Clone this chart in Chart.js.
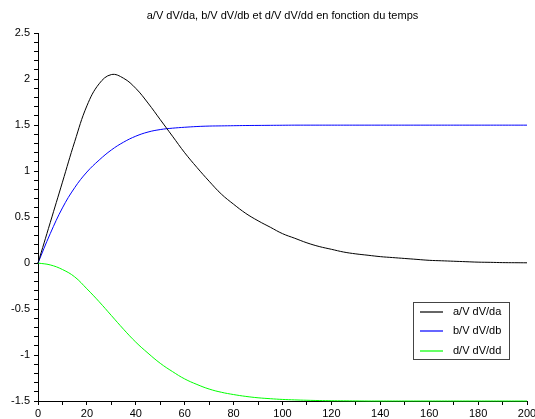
<!DOCTYPE html>
<html>
<head>
<meta charset="utf-8">
<script src="https://cdn.jsdelivr.net/npm/chart.js@4/dist/chart.umd.min.js"></script>
<style>
  html, body { margin: 0; padding: 0; background: #fff; }
  #wrap { width: 535px; height: 419px; }
</style>
</head>
<body>
<div id="wrap"><canvas id="myChart" width="535" height="419"></canvas></div>
<script>
// temps (pas de 5)
const temps = [0, 5, 10, 15, 20, 25, 30, 35, 40, 45, 50, 55, 60, 65, 70, 75, 80, 85, 90, 95, 100,
    105, 110, 115, 120, 125, 130, 135, 140, 145, 150, 155, 160, 165, 170, 175, 180, 185, 190, 195, 200];
// a/V dV/da
const sensA = [0, 0.44, 0.88, 1.32, 1.71, 1.95, 2.05, 2.01, 1.90, 1.74, 1.56, 1.38, 1.20, 1.04, 0.89, 0.75, 0.64, 0.54, 0.46, 0.39, 0.32,
    0.27, 0.22, 0.18, 0.15, 0.12, 0.10, 0.085, 0.07, 0.06, 0.05, 0.04, 0.03, 0.025, 0.02, 0.015, 0.01, 0.008, 0.005, 0.004, 0.003];
// b/V dV/db
const sensB = [0, 0.32, 0.60, 0.82, 0.99, 1.12, 1.23, 1.315, 1.38, 1.425, 1.452, 1.467, 1.477, 1.485, 1.49, 1.492, 1.494, 1.496, 1.497, 1.498, 1.499,
    1.5, 1.5, 1.5, 1.5, 1.5, 1.5, 1.5, 1.5, 1.5, 1.5, 1.5, 1.5, 1.5, 1.5, 1.5, 1.5, 1.5, 1.5, 1.5, 1.5];
// d/V dV/dd
const sensD = [0, -0.02, -0.07, -0.15, -0.28, -0.42, -0.57, -0.72, -0.86, -0.98, -1.09, -1.18, -1.26, -1.32, -1.37, -1.405, -1.43, -1.45, -1.465, -1.475, -1.483,
    -1.488, -1.492, -1.495, -1.497, -1.498, -1.499, -1.5, -1.5, -1.5, -1.5, -1.5, -1.5, -1.5, -1.5, -1.5, -1.5, -1.5, -1.5, -1.5, -1.5];

const seriesNames = ['a/V dV/da', 'b/V dV/db', 'd/V dV/dd'];
const seriesColors = ['#000000', '#0000ff', '#00ff00'];
const titre = 'a/V dV/da, b/V dV/db et d/V dV/dd en fonction du temps';

function pts(vals) {
    return vals.map((v, i) => ({ x: temps[i], y: v }));
}

const isMult = (v, step) => Math.abs(v / step - Math.round(v / step)) < 1e-6;

// legend box drawn in lower right of the plot (like scilab)
const boxLegend = {
    id: 'boxLegend',
    afterDraw(chart) {
        const c = chart.ctx;
        const x0 = 413, y0 = 302, w = 96, h = 57;
        c.save();
        c.fillStyle = '#fff';
        c.fillRect(x0, y0, w, h);
        c.strokeStyle = '#444';
        c.lineWidth = 1;
        c.strokeRect(x0 + 0.5, y0 + 0.5, w, h);
        c.font = '11px "Liberation Sans", Arial, sans-serif';
        c.textBaseline = 'middle';
        seriesNames.forEach((name, i) => {
            const y = Math.round(y0 + 9.5 + i * 19.5);
            c.beginPath();
            c.strokeStyle = seriesColors[i];
            c.lineWidth = 1.2;
            c.moveTo(420, y);
            c.lineTo(443, y);
            c.stroke();
            c.fillStyle = '#000';
            c.fillText(name, 453, y);
        });
        c.restore();
    }
};

const ctx = document.getElementById('myChart');
const myChart = new Chart(ctx, {
    type: 'line',
    data: {
        datasets: [
            { label: seriesNames[0], data: pts(sensA), borderColor: seriesColors[0] },
            { label: seriesNames[1], data: pts(sensB), borderColor: seriesColors[1] },
            { label: seriesNames[2], data: pts(sensD), borderColor: seriesColors[2] }
        ].map(d => Object.assign(d, { borderWidth: 1, pointRadius: 0, tension: 0.4, fill: false, clip: false }))
    },
    options: {
        responsive: false,
        animation: false,
        layout: { padding: { top: 0, right: 8, left: 0, bottom: 0 } },
        plugins: {
            legend: { display: false },
            tooltip: { enabled: false },
            title: {
                display: true,
                fullSize: false,
                text: titre,
                color: '#000',
                font: { family: '"Liberation Sans", Arial, sans-serif', size: 11, weight: 'normal' },
                padding: { top: 9, bottom: 11 }
            }
        },
        scales: {
            x: {
                type: 'linear',
                min: 0,
                max: 200,
                border: { color: '#000', width: 1 },
                grid: { drawOnChartArea: false, drawTicks: true, tickLength: 4, color: '#000' },
                afterFit: s => { s.height = 18; s.paddingRight = 0; s.paddingLeft = 0; },
                ticks: {
                    stepSize: 10,
                    autoSkip: false,
                    maxRotation: 0,
                    color: '#000',
                    padding: 2,
                    font: { family: '"Liberation Sans", Arial, sans-serif', size: 11 },
                    callback: v => isMult(v, 20) ? String(v) : ''
                }
            },
            y: {
                min: -1.5,
                max: 2.5,
                border: { color: '#000', width: 1 },
                grid: { drawOnChartArea: false, drawTicks: true, tickLength: 4, color: '#000' },
                afterFit: s => { s.width = 38; },
                ticks: {
                    stepSize: 0.1,
                    autoSkip: false,
                    color: '#000',
                    padding: 4,
                    font: { family: '"Liberation Sans", Arial, sans-serif', size: 11 },
                    callback: v => isMult(v, 0.5) ? String(Math.round(v * 10) / 10) : ''
                }
            }
        }
    },
    plugins: [boxLegend]
});
</script>
</body>
</html>
